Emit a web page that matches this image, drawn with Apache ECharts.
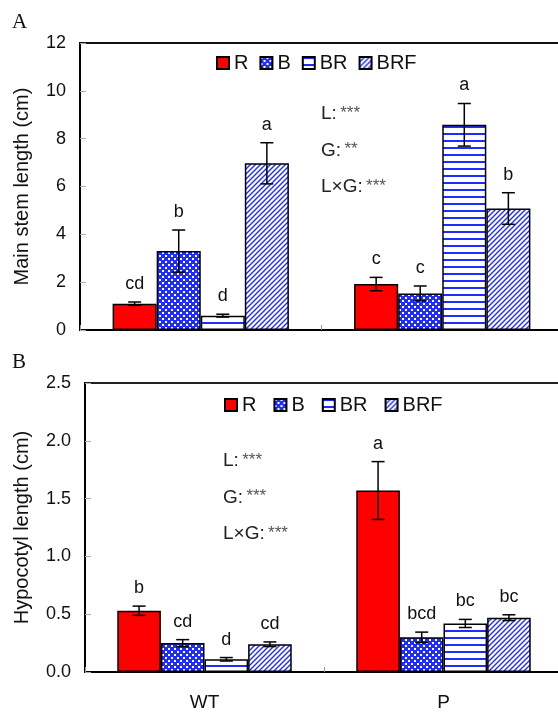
<!DOCTYPE html>
<html>
<head>
<meta charset="utf-8">
<script src="https://cdn.jsdelivr.net/npm/echarts@6/dist/echarts.min.js"></script>
<style>
  html, body { margin: 0; padding: 0; background: #fff; }
  #chart { width: 558px; height: 715px; }
</style>
</head>
<body>
<div id="chart"></div>
<script>
// categories and light treatments
const genotypes = ["WT", "P"];
const lights = ["R", "B", "BR", "BRF"];

// A: main stem length (cm), per light: [WT, P]
const stemMean = [[1.1, 1.92], [3.3, 1.53], [0.6, 8.58], [6.97, 5.08]];
const stemErr = [[0.07, 0.28], [0.88, 0.31], [0.06, 0.89], [0.86, 0.66]];
const stemLetters = [["cd", "c"], ["b", "c"], ["d", "a"], ["a", "b"]];
const stemTicks = [0, 2, 4, 6, 8, 10, 12];
const stemStats = [["L:", "***"], ["G:", "**"], ["L×G:", "***"]];

// B: hypocotyl length (cm)
const hypoMean = [[0.53, 1.57], [0.25, 0.30], [0.11, 0.42], [0.24, 0.47]];
const hypoErr = [[0.04, 0.25], [0.03, 0.045], [0.015, 0.035], [0.02, 0.025]];
const hypoLetters = [["b", "a"], ["cd", "bcd"], ["d", "bc"], ["cd", "bc"]];
const hypoTicks = [0, 0.5, 1.0, 1.5, 2.0, 2.5];
const hypoStats = [["L:", "***"], ["G:", "***"], ["L×G:", "***"]];

const BLUE = "#1f2cff";
const SANS = "'Liberation Sans', Arial, sans-serif";
const GAP = 0.27; // barCategoryGap

// fill patterns
function makePattern(kind) {
  const c = document.createElement("canvas");
  const ctx = c.getContext("2d");
  if (kind === "check") {
    c.width = 6; c.height = 6;
    ctx.fillStyle = BLUE; ctx.fillRect(0, 0, 6, 6);
    ctx.fillStyle = "#fff";
    ctx.fillRect(0, 0, 2, 2); ctx.fillRect(3, 3, 2, 2);
  } else if (kind === "hline") {
    c.width = 4; c.height = 7;
    ctx.fillStyle = "#fff"; ctx.fillRect(0, 0, 4, 7);
    ctx.fillStyle = BLUE; ctx.fillRect(0, 0, 4, 2);
  } else {
    c.width = 5; c.height = 5;
    ctx.fillStyle = "#fff"; ctx.fillRect(0, 0, 5, 5);
    ctx.strokeStyle = BLUE; ctx.lineWidth = 1.4;
    ctx.beginPath();
    ctx.moveTo(-1, 6); ctx.lineTo(6, -1);
    ctx.moveTo(-1, 1); ctx.lineTo(1, -1);
    ctx.moveTo(4, 6); ctx.lineTo(6, 4);
    ctx.stroke();
  }
  return { image: c, repeat: "repeat" };
}
const fills = ["#ff0000", makePattern("check"), makePattern("hline"), makePattern("diag")];

// error bars + significance letters, placed over the matching bar
function errorSeries(idx, mean, err, letters) {
  const data = [];
  lights.forEach((l, k) => {
    genotypes.forEach((g, c) => data.push([c, k, mean[k][c], err[k][c]]));
  });
  return {
    type: "custom",
    xAxisIndex: idx,
    yAxisIndex: idx,
    z: 5,
    silent: true,
    clip: false,
    encode: { x: 0, y: 2 },
    data: data,
    renderItem: function (params, api) {
      const c = api.value(0), k = api.value(1), m = api.value(2), e = api.value(3);
      const barW = api.size([1, 0])[0] * (1 - GAP) / 4;
      const x = api.coord([c, m])[0] + (k - 1.5) * barW;
      const yTop = api.coord([c, m + e])[1];
      const yBot = api.coord([c, m - e])[1];
      const cap = 6.5;
      const ln = { stroke: "#000", lineWidth: 1.5 };
      return {
        type: "group",
        children: [
          { type: "line", shape: { x1: x, y1: yTop, x2: x, y2: yBot }, style: ln },
          { type: "line", shape: { x1: x - cap, y1: yTop, x2: x + cap, y2: yTop }, style: ln },
          { type: "line", shape: { x1: x - cap, y1: yBot, x2: x + cap, y2: yBot }, style: ln },
          {
            type: "text",
            style: {
              text: letters[k][c], x: x, y: yTop - 9,
              align: "center", verticalAlign: "bottom",
              font: "18px " + SANS, fill: "#111"
            }
          }
        ]
      };
    }
  };
}

function barSeries(idx, mean) {
  return lights.map((l, k) => ({
    name: l,
    type: "bar",
    xAxisIndex: idx,
    yAxisIndex: idx,
    barGap: "0%",
    barCategoryGap: GAP * 100 + "%",
    data: mean[k],
    itemStyle: { color: fills[k], borderColor: "#000", borderWidth: 1.5 }
  }));
}

function statsText(x, y, stats) {
  return stats.map((s, i) => ({
    type: "text",
    x: x,
    y: y + i * 36.5,
    style: {
      text: "{m|" + s[0] + "} {s|" + s[1] + "}",
      verticalAlign: "middle",
      rich: {
        m: { font: "19px " + SANS, fill: "#222" },
        s: { font: "17px " + SANS, fill: "#555", padding: [0, 0, 2, 0] }
      }
    }
  }));
}

const xAxisBase = {
  type: "category",
  data: genotypes,
  axisLine: { lineStyle: { color: "#000", width: 2 } },
  axisTick: { show: true, inside: true, length: 5, interval: 0, lineStyle: { color: "#999" } },
  splitLine: { show: false }
};
const yAxisBase = {
  type: "value",
  min: 0,
  nameLocation: "middle",
  nameTextStyle: { fontFamily: SANS, fontSize: 20, color: "#111" },
  axisLine: { show: true, lineStyle: { color: "#000", width: 2 } },
  axisTick: { show: true, inside: true, length: 6, lineStyle: { color: "#aaa" } },
  splitLine: { show: false }
};
const legendBase = {
  data: lights,
  icon: "rect",
  itemWidth: 12,
  itemHeight: 12,
  padding: 0,
  selectedMode: false,
  textStyle: { fontFamily: SANS, fontSize: 20, color: "#111" }
};

const chart = echarts.init(document.getElementById("chart"));
chart.setOption({
  animation: false,
  grid: [
    { left: 80, top: 43, width: 483, height: 287, show: true, borderColor: "#111", borderWidth: 2, outerBoundsMode: "none" },
    { left: 85, top: 383, width: 478, height: 289, show: true, borderColor: "#222", borderWidth: 2, outerBoundsMode: "none" }
  ],
  legend: [
    Object.assign({}, legendBase, { left: 216, top: 53, itemGap: 11 }),
    Object.assign({}, legendBase, { left: 224, top: 395, itemGap: 17 })
  ],
  xAxis: [
    Object.assign({}, xAxisBase, { gridIndex: 0, axisLabel: { show: false } }),
    Object.assign({}, xAxisBase, {
      gridIndex: 1,
      axisLabel: { fontFamily: SANS, fontSize: 19, color: "#111", margin: 21 }
    })
  ],
  yAxis: [
    Object.assign({}, yAxisBase, {
      gridIndex: 0,
      max: stemTicks[stemTicks.length - 1],
      interval: stemTicks[1] - stemTicks[0],
      name: "Main stem length (cm)",
      nameGap: 48,
      axisLabel: { fontFamily: SANS, fontSize: 18, color: "#111", margin: 14 }
    }),
    Object.assign({}, yAxisBase, {
      gridIndex: 1,
      max: hypoTicks[hypoTicks.length - 1],
      interval: hypoTicks[1] - hypoTicks[0],
      name: "Hypocotyl length (cm)",
      nameGap: 53,
      axisLabel: {
        fontFamily: SANS, fontSize: 18, color: "#111", margin: 14,
        formatter: v => v.toFixed(1)
      }
    })
  ],
  graphic: [
    { type: "text", x: 12, y: 12, style: { text: "A", font: "21px 'Liberation Serif', serif", fill: "#111" } },
    { type: "text", x: 12, y: 352, style: { text: "B", font: "21px 'Liberation Serif', serif", fill: "#111" } }
  ]
    .concat(statsText(321, 114, stemStats))
    .concat(statsText(223, 461, hypoStats)),
  series: barSeries(0, stemMean)
    .concat([errorSeries(0, stemMean, stemErr, stemLetters)])
    .concat(barSeries(1, hypoMean))
    .concat([errorSeries(1, hypoMean, hypoErr, hypoLetters)])
});
</script>
</body>
</html>
